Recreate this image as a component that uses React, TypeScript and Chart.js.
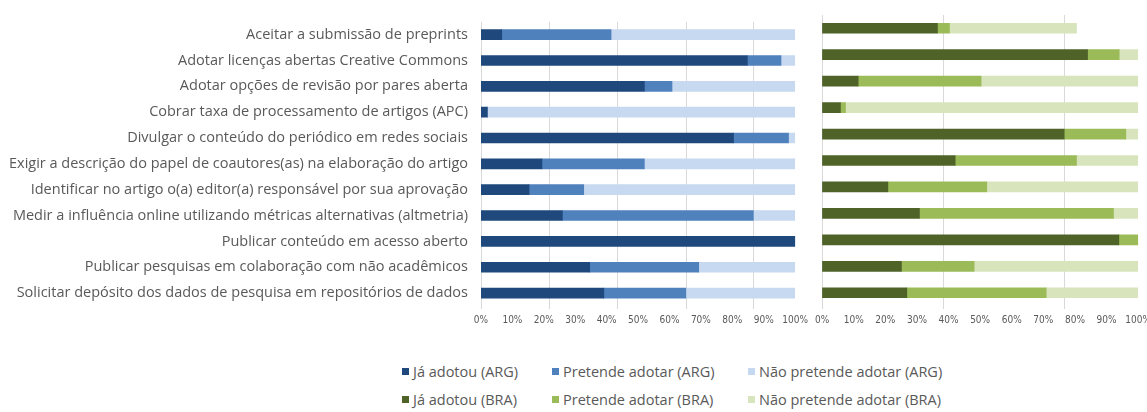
import React, { useEffect, useRef } from "react";
import Chart from "chart.js/auto";

const CATEGORIES = [
  "Aceitar a submissão de preprints",
  "Adotar licenças abertas Creative Commons",
  "Adotar opções de revisão por pares aberta",
  "Cobrar taxa de processamento de artigos (APC)",
  "Divulgar o conteúdo do periódico em redes sociais",
  "Exigir a descrição do papel de coautores(as) na elaboração do artigo",
  "Identificar no artigo o(a) editor(a) responsável por sua aprovação",
  "Medir a influência online utilizando métricas alternativas (altmetria)",
  "Publicar conteúdo em acesso aberto",
  "Publicar pesquisas em colaboração com não acadêmicos",
  "Solicitar depósito dos dados de pesquisa em repositórios de dados",
];

const ARG_JA = [6.6, 84.8, 52.0, 2.0, 80.4, 19.4, 15.3, 25.9, 100, 34.6, 39.1];
const ARG_PRETENDE = [34.8, 10.7, 8.8, 0, 17.5, 32.6, 17.4, 60.8, 0, 34.7, 26.1];
const ARG_NAO = [58.6, 4.5, 39.2, 98.0, 2.1, 48.0, 67.3, 13.3, 0, 30.7, 34.8];

const BRA_JA = [36.5, 84.0, 11.4, 5.8, 76.6, 42.1, 20.8, 30.8, 93.9, 25.1, 26.8];
const BRA_PRETENDE = [3.8, 10.0, 38.9, 1.6, 19.5, 38.4, 31.3, 61.4, 6.1, 23.0, 44.1];
const BRA_NAO = [40.2, 6.0, 49.7, 92.6, 3.9, 19.5, 47.9, 7.8, 0, 51.9, 29.1];

const SERIES_NAMES_ARG = ["Já adotou (ARG)", "Pretende adotar (ARG)", "Não pretende adotar (ARG)"];
const SERIES_NAMES_BRA = ["Já adotou (BRA)", "Pretende adotar (BRA)", "Não pretende adotar (BRA)"];

const COLORS_ARG = ["#1F487C", "#4F81BD", "#C6D9F0"];
const COLORS_BRA = ["#4F6228", "#9BBB59", "#D7E4BC"];

const GRID_ARG = [0, 21.7, 43.4, 65.3, 86.6];
const GRID_BRA = [0, 38.3, 76.6];

const TEXT_COLOR = "#595959";

function gridPlugin(values: number[]) {
  return {
    id: "customGrid",
    beforeDatasetsDraw(chart: any) {
      const { ctx, chartArea, scales } = chart;
      const xs = scales.x;
      ctx.save();
      ctx.strokeStyle = "#D9D9D9";
      ctx.lineWidth = 1;
      values.forEach((v) => {
        const px = Math.round(xs.getPixelForValue(v)) + 0.5;
        ctx.beginPath();
        ctx.moveTo(px, chartArea.top);
        ctx.lineTo(px, chartArea.bottom + 3);
        ctx.stroke();
      });
      ctx.restore();
    },
  };
}

function makeConfig(
  data: number[][],
  names: string[],
  colors: string[],
  showLabels: boolean,
  grid: number[],
  padding: any
): any {
  return {
    type: "bar",
    data: {
      labels: CATEGORIES,
      datasets: data.map((d, i) => ({
        label: names[i],
        data: d,
        backgroundColor: colors[i],
        borderWidth: 0,
        barThickness: 10,
      })),
    },
    plugins: [gridPlugin(grid)],
    options: {
      indexAxis: "y",
      animation: false,
      responsive: false,
      maintainAspectRatio: false,
      layout: { padding },
      plugins: { legend: { display: false }, tooltip: { enabled: false } },
      scales: {
        x: {
          stacked: true,
          min: 0,
          max: 100,
          grid: { display: false, drawTicks: false },
          border: { display: false },
          ticks: {
            stepSize: 10,
            padding: 8,
            color: TEXT_COLOR,
            maxRotation: 0,
            autoSkip: false,
            font: { family: "'Liberation Sans Narrow', 'DejaVu Sans Condensed', Arial", size: 10 },
            callback: (v: any) => v + "%",
          },
          afterFit: (s: any) => {
            s.height = 29;
          },
        },
        y: {
          stacked: true,
          display: showLabels ? true : false,
          grid: { display: false, drawTicks: false },
          border: { display: false },
          ticks: {
            padding: 13,
            color: TEXT_COLOR,
            autoSkip: false,
            font: { family: "'Open Sans', sans-serif", size: 14.5 },
          },
          afterFit: (s: any) => {
            if (showLabels) s.width = 481;
          },
        },
      },
    },
  };
}

export default function App() {
  const leftRef = useRef<HTMLCanvasElement>(null);
  const rightRef = useRef<HTMLCanvasElement>(null);

  useEffect(() => {
    const c1 = new Chart(
      leftRef.current!,
      makeConfig([ARG_JA, ARG_PRETENDE, ARG_NAO], SERIES_NAMES_ARG, COLORS_ARG, true, GRID_ARG, {
        top: 15,
        right: 9,
        bottom: 0,
        left: 0,
      })
    );
    const c2 = new Chart(
      rightRef.current!,
      makeConfig([BRA_JA, BRA_PRETENDE, BRA_NAO], SERIES_NAMES_BRA, COLORS_BRA, false, GRID_BRA, {
        top: 15,
        right: 9,
        bottom: 0,
        left: 9,
      })
    );
    return () => {
      c1.destroy();
      c2.destroy();
    };
  }, []);

  const legendCols = [402, 552, 748];
  const legendRows = [
    { y: 371, names: SERIES_NAMES_ARG, colors: COLORS_ARG },
    { y: 399, names: SERIES_NAMES_BRA, colors: COLORS_BRA },
  ];

  return (
    <div
      style={{
        position: "fixed",
        left: 0,
        top: 0,
        width: 1147,
        height: 412,
        background: "#fff",
        overflow: "hidden",
      }}
    >
      <canvas
        ref={leftRef}
        width={816}
        height={335}
        style={{ position: "absolute", left: 0, top: 0, width: 816, height: 335 }}
      />
      <canvas
        ref={rightRef}
        width={352}
        height={335}
        style={{ position: "absolute", left: 807, top: 0, width: 352, height: 335 }}
      />
      {legendRows.map((row, r) =>
        row.names.map((name, i) => (
          <div
            key={r + "-" + i}
            style={{
              position: "absolute",
              left: legendCols[i],
              top: row.y - 10,
              height: 20,
              display: "flex",
              alignItems: "center",
              fontFamily: "'Open Sans', sans-serif",
              fontSize: 14.5,
              color: TEXT_COLOR,
              whiteSpace: "nowrap",
            }}
          >
            <span
              style={{
                display: "inline-block",
                width: 7,
                height: 7,
                background: row.colors[i],
                marginRight: 4,
              }}
            />
            {name}
          </div>
        ))
      )}
    </div>
  );
}
